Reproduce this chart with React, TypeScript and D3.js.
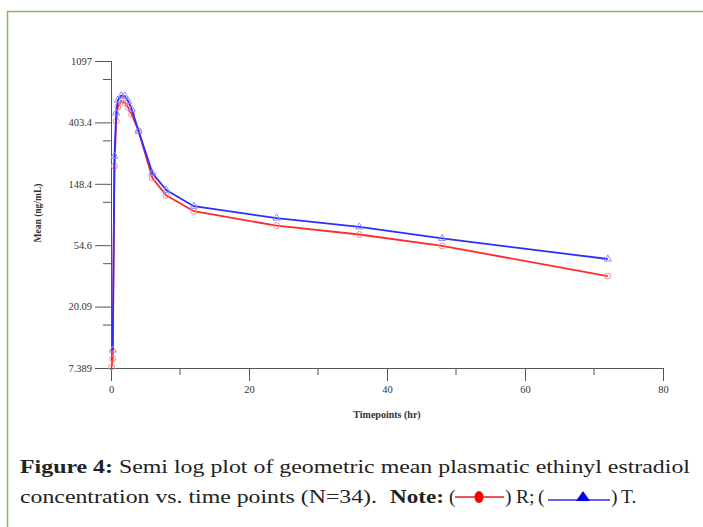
import React, { useEffect, useRef } from "react";
import * as d3 from "d3";

// timepoints (hr) and geometric means (ng/mL)
const timesR = [0.1, 0.25, 0.5, 0.75, 1, 1.5, 2, 2.5, 3, 4, 6, 8, 12, 24, 36, 48, 72];
const valuesR = [7.5, 8.6, 198, 411, 520, 570, 555, 515, 460, 350, 163, 123, 95, 75, 65, 54, 33];
const timesT = [0.25, 0.5, 0.75, 1, 1.5, 2, 2.5, 3, 4, 6, 8, 12, 24, 36, 48, 72];
const valuesT = [9.9, 233, 470, 580, 625, 620, 570, 500, 350, 177, 134, 103, 85, 73.5, 61, 43.6];

const yTickValues = [Math.exp(2), Math.exp(3), Math.exp(4), Math.exp(5), Math.exp(6), Math.exp(7)];
const yTickLabels = ["7.389", "20.09", "54.6", "148.4", "403.4", "1097"];
const xTickValues = [0, 20, 40, 60, 80];
const xMinorTicks = [10, 30, 50, 70];

const App = () => {
  const svgRef = useRef(null);
  const svgWidth = 703;
  const svgHeight = 527;

  useEffect(() => {
    const svg = d3.select(svgRef.current);
    svg.selectAll("*").remove();

    // green frame (top + left)
    svg.append("path")
      .attr("d", "M7.5,527 L7.5,11.5 L703,11.5")
      .attr("fill", "none")
      .attr("stroke", "#82b866")
      .attr("stroke-width", 1.5);

    const xScale = d3.scaleLinear().domain([0, 80]).range([111, 663]);
    const yScale = d3.scaleLog().domain([Math.exp(2), Math.exp(7)]).range([368, 61]);

    const axisColor = "#555";
    const tickFont = "'Liberation Serif', 'DejaVu Serif', serif";

    // y axis
    const yAxis = d3.axisLeft(yScale)
      .tickValues(yTickValues)
      .tickSize(16)
      .tickPadding(3)
      .tickFormat((d, i) => yTickLabels[i]);
    const yAxisG = svg.append("g").attr("transform", "translate(111,0)").call(yAxis);
    yAxisG.select(".domain").attr("stroke", axisColor).attr("d", "M0.5,61V368");
    yAxisG.selectAll(".tick line").attr("stroke", axisColor);
    yAxisG.selectAll("text")
      .attr("font-family", tickFont)
      .attr("font-size", 10.5)
      .attr("fill", "#333");

    const yMinor = yTickValues.slice(1).map((v) => v * 0.74);
    yAxisG.selectAll(".minor")
      .data(yMinor)
      .enter()
      .append("line")
      .attr("x1", -8)
      .attr("x2", 0)
      .attr("y1", (d) => yScale(d))
      .attr("y2", (d) => yScale(d))
      .attr("stroke", axisColor);

    // x axis
    const xAxis = d3.axisBottom(xScale)
      .tickValues(xTickValues)
      .tickSize(13)
      .tickPadding(5)
      .tickFormat(d3.format("d"));
    const xAxisG = svg.append("g").attr("transform", "translate(0,368)").call(xAxis);
    xAxisG.select(".domain").attr("stroke", axisColor).attr("d", "M111,0.5H663");
    xAxisG.selectAll(".tick line").attr("stroke", axisColor);
    xAxisG.selectAll("text")
      .attr("font-family", tickFont)
      .attr("font-size", 10.5)
      .attr("fill", "#333");
    xAxisG.selectAll(".minor")
      .data(xMinorTicks)
      .enter()
      .append("line")
      .attr("x1", (d) => xScale(d))
      .attr("x2", (d) => xScale(d))
      .attr("y1", 0)
      .attr("y2", 7)
      .attr("stroke", axisColor);

    // axis labels
    svg.append("text")
      .attr("transform", "translate(41,213) rotate(-90)")
      .attr("text-anchor", "middle")
      .attr("font-family", tickFont)
      .attr("font-weight", "bold")
      .attr("font-size", 9.5)
      .attr("fill", "#333")
      .text("Mean (ng/mL)");
    svg.append("text")
      .attr("x", 387)
      .attr("y", 418)
      .attr("text-anchor", "middle")
      .attr("font-family", tickFont)
      .attr("font-weight", "bold")
      .attr("font-size", 10)
      .attr("fill", "#333")
      .text("Timepoints (hr)");

    const line = d3.line()
      .x((d) => xScale(d[0]))
      .y((d) => yScale(d[1]));

    const dataR = timesR.map((t, i) => [t, valuesR[i]]);
    const dataT = timesT.map((t, i) => [t, valuesT[i]]);

    const g = svg.append("g");

    g.append("path")
      .datum(dataR)
      .attr("d", line)
      .attr("fill", "none")
      .attr("stroke", "#ff2a2a")
      .attr("stroke-width", 1.8);
    g.selectAll(".ptR")
      .data(dataR)
      .enter()
      .append("circle")
      .attr("cx", (d) => xScale(d[0]))
      .attr("cy", (d) => yScale(d[1]))
      .attr("r", 3)
      .attr("fill", "none")
      .attr("stroke", "#ff8c8c")
      .attr("stroke-width", 1);

    g.append("path")
      .datum(dataT)
      .attr("d", line)
      .attr("fill", "none")
      .attr("stroke", "#2d2dff")
      .attr("stroke-width", 1.8);
    const tri = d3.symbol().type(d3.symbolTriangle).size(22);
    g.selectAll(".ptT")
      .data(dataT)
      .enter()
      .append("path")
      .attr("transform", (d) => `translate(${xScale(d[0])},${yScale(d[1])})`)
      .attr("d", tri)
      .attr("fill", "none")
      .attr("stroke", "#8c8cff")
      .attr("stroke-width", 1);

    // caption
    const capFont = "'Liberation Serif', 'DejaVu Serif', serif";
    const cap = svg.append("g").attr("font-family", capFont).attr("font-size", 19.5).attr("fill", "#222");
    const l1 = cap.append("text")
      .attr("x", 20)
      .attr("y", 473)
      .attr("textLength", 670)
      .attr("lengthAdjust", "spacingAndGlyphs");
    l1.append("tspan").attr("font-weight", "bold").text("Figure 4:");
    l1.append("tspan").text(" Semi log plot of geometric mean plasmatic ethinyl estradiol");

    cap.append("text")
      .attr("x", 20)
      .attr("y", 503)
      .attr("textLength", 357)
      .attr("lengthAdjust", "spacingAndGlyphs")
      .text("concentration vs. time points (N=34).");
    cap.append("text")
      .attr("x", 390)
      .attr("y", 503)
      .attr("font-weight", "bold")
      .attr("textLength", 54)
      .attr("lengthAdjust", "spacingAndGlyphs")
      .text("Note:");
    cap.append("text").attr("x", 449).attr("y", 503).text("(");
    cap.append("line")
      .attr("x1", 455).attr("x2", 504).attr("y1", 497).attr("y2", 497)
      .attr("stroke", "#e02020").attr("stroke-width", 1.5);
    cap.append("ellipse")
      .attr("cx", 479).attr("cy", 497).attr("rx", 4.5).attr("ry", 6)
      .attr("fill", "#ff0000");
    cap.append("text").attr("x", 505).attr("y", 503).text(")");
    cap.append("text").attr("x", 516).attr("y", 503).text("R;");
    cap.append("text").attr("x", 538).attr("y", 503).text("(");
    cap.append("line")
      .attr("x1", 548).attr("x2", 610).attr("y1", 500).attr("y2", 500)
      .attr("stroke", "#3030e0").attr("stroke-width", 1.5);
    cap.append("path")
      .attr("d", "M576,501 L583,491 L590,501 Z")
      .attr("fill", "#0000ee");
    cap.append("text").attr("x", 611).attr("y", 503).text(")");
    cap.append("text").attr("x", 621).attr("y", 503).text("T.");
  }, []);

  return (
    <svg
      ref={svgRef}
      width={svgWidth}
      height={svgHeight}
      style={{ position: "absolute", left: 0, top: 0, background: "#fff" }}
    ></svg>
  );
};

export default App;
